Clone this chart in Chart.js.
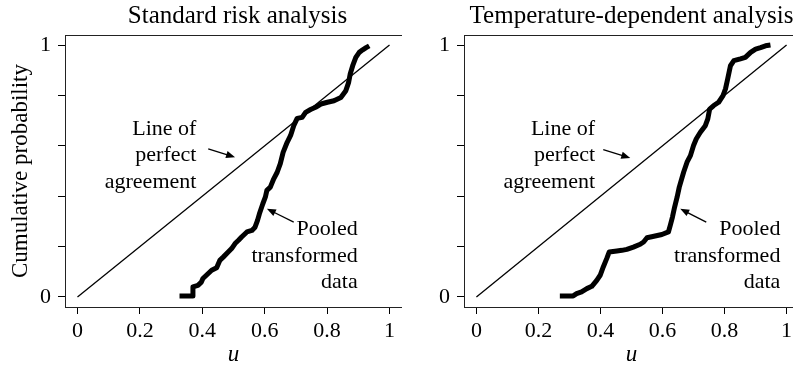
<!DOCTYPE html>
<html lang="en">
<head>
  <meta charset="UTF-8" />
  <title>Cumulative probability against u</title>
  <script src="https://cdn.jsdelivr.net/npm/chart.js@4"></script>
  <style>
    body {
      margin: 0;
      background: #fff;
      width: 793px;
      height: 371px;
      overflow: hidden;
      position: relative;
    }
    canvas { position: absolute; top: 0; }
    #stdChart { left: 0; }
    #tempChart { left: 399px; }
  </style>
</head>
<body>
  <canvas id="stdChart" width="402" height="371"></canvas>
  <canvas id="tempChart" width="400" height="371"></canvas>

  <script>
    const uTicks = [0, 0.2, 0.4, 0.6, 0.8, 1];
    const pTicks = [0, 0.2, 0.4, 0.6, 0.8, 1];
    const pLabelled = [0, 1];

    const agreementU = [0, 1];
    const agreementP = [0, 1];

    // standard risk analysis, pooled transformed data
    const stdU = [0.327, 0.370, 0.370, 0.386, 0.397, 0.402, 0.419, 0.430, 0.446, 0.456,
                  0.467, 0.483, 0.494, 0.505, 0.516, 0.526, 0.543, 0.559, 0.569, 0.577,
                  0.583, 0.594, 0.602, 0.607, 0.618, 0.629, 0.640, 0.650, 0.659, 0.672,
                  0.683, 0.693, 0.704, 0.720, 0.731, 0.747, 0.763, 0.780, 0.801, 0.822,
                  0.844, 0.860, 0.869, 0.874, 0.882, 0.892, 0.903, 0.914, 0.925, 0.935];
    const stdP = [0.004, 0.004, 0.040, 0.046, 0.059, 0.073, 0.093, 0.106, 0.116, 0.145,
                  0.158, 0.178, 0.192, 0.212, 0.225, 0.238, 0.258, 0.264, 0.277, 0.304,
                  0.330, 0.370, 0.396, 0.423, 0.436, 0.469, 0.495, 0.529, 0.574, 0.614,
                  0.641, 0.680, 0.709, 0.713, 0.733, 0.744, 0.753, 0.766, 0.773, 0.779,
                  0.792, 0.819, 0.852, 0.885, 0.918, 0.951, 0.971, 0.981, 0.990, 0.997];

    // temperature-dependent analysis
    const tempU = [0.269, 0.312, 0.323, 0.339, 0.356, 0.372, 0.388, 0.399, 0.409, 0.420,
                   0.428, 0.453, 0.469, 0.485, 0.506, 0.528, 0.539, 0.550, 0.576, 0.598,
                   0.619, 0.625, 0.632, 0.639, 0.647, 0.654, 0.668, 0.679, 0.690, 0.700,
                   0.709, 0.722, 0.738, 0.746, 0.752, 0.765, 0.781, 0.795, 0.803, 0.810,
                   0.819, 0.830, 0.851, 0.867, 0.884, 0.900, 0.916, 0.932, 0.948];
    const tempP = [0.004, 0.004, 0.013, 0.020, 0.033, 0.042, 0.066, 0.086, 0.119, 0.152,
                   0.178, 0.182, 0.185, 0.189, 0.198, 0.209, 0.218, 0.235, 0.242, 0.248,
                   0.258, 0.284, 0.317, 0.357, 0.396, 0.436, 0.495, 0.535, 0.561, 0.601,
                   0.628, 0.654, 0.680, 0.707, 0.746, 0.760, 0.773, 0.799, 0.826, 0.865,
                   0.918, 0.938, 0.945, 0.951, 0.971, 0.984, 0.990, 0.997, 1.000];

    const agreementNote = ['Line of', 'perfect', 'agreement'];
    const pooledNote = ['Pooled', 'transformed', 'data'];

    const serif = "'Liberation Serif', 'Times New Roman', serif";
    Chart.defaults.font.family = serif;
    Chart.defaults.color = '#000';

    const toPoints = (xs, ys) => xs.map((x, i) => ({ x, y: ys[i] }));
    const px = v => Math.round(v - 0.5) + 0.5;

    // closed frame round the plot region plus the panel title
    const boxPlugin = {
      id: 'box',
      afterDraw(chart, args, opts) {
        const { ctx, chartArea: a } = chart;
        ctx.save();
        ctx.strokeStyle = '#222';
        ctx.lineWidth = 1;
        ctx.strokeRect(px(a.left), px(a.top), px(a.right) - px(a.left), px(a.bottom) - px(a.top));
        ctx.font = '25px ' + serif;
        ctx.fillStyle = '#000';
        ctx.textAlign = 'center';
        ctx.textBaseline = 'alphabetic';
        ctx.fillText(opts.title, (a.left + a.right) / 2 + (opts.shift || 0), 23);
        ctx.restore();
      }
    };

    function arrow(ctx, x1, y1, x2, y2) {
      const ang = Math.atan2(y2 - y1, x2 - x1);
      const len = 9, half = 3.6;
      ctx.beginPath();
      ctx.moveTo(x1, y1);
      ctx.lineTo(x2 - Math.cos(ang) * len * 0.8, y2 - Math.sin(ang) * len * 0.8);
      ctx.stroke();
      ctx.beginPath();
      ctx.moveTo(x2, y2);
      ctx.lineTo(x2 - Math.cos(ang) * len + Math.sin(ang) * half, y2 - Math.sin(ang) * len - Math.cos(ang) * half);
      ctx.lineTo(x2 - Math.cos(ang) * len - Math.sin(ang) * half, y2 - Math.sin(ang) * len + Math.cos(ang) * half);
      ctx.closePath();
      ctx.fill();
    }

    // text labels with pointer arrows, placed in data units
    const notesPlugin = {
      id: 'notes',
      afterDatasetsDraw(chart, args, opts) {
        const { ctx, scales: { x, y } } = chart;
        ctx.save();
        ctx.font = '22px ' + serif;
        ctx.fillStyle = '#000';
        ctx.strokeStyle = '#000';
        ctx.lineWidth = 1.3;
        ctx.textAlign = 'right';
        ctx.textBaseline = 'alphabetic';
        opts.items.forEach(n => {
          const tx = x.getPixelForValue(n.at[0]);
          const ty = y.getPixelForValue(n.at[1]);
          n.text.forEach((line, i) => ctx.fillText(line, tx, ty + i * 26.3));
          arrow(ctx,
            x.getPixelForValue(n.from[0]), y.getPixelForValue(n.from[1]),
            x.getPixelForValue(n.to[0]), y.getPixelForValue(n.to[1]));
        });
        ctx.restore();
      }
    };

    function makeChart(id, title, us, ps, yTitle, notes, shift) {
      return new Chart(document.getElementById(id), {
        type: 'line',
        data: {
          datasets: [
            { data: toPoints(agreementU, agreementP), borderColor: '#000', borderWidth: 1.3 },
            { data: toPoints(us, ps), borderColor: '#000', borderWidth: 5,
              borderJoinStyle: 'round', borderCapStyle: 'butt' }
          ]
        },
        options: {
          responsive: false,
          animation: false,
          layout: { padding: { top: 35, right: 0, left: 0, bottom: 0 } },
          elements: { point: { radius: 0 }, line: { tension: 0 } },
          plugins: {
            legend: { display: false },
            tooltip: { enabled: false },
            box: { title, shift },
            notes: { items: notes }
          },
          scales: {
            x: {
              type: 'linear',
              min: -0.04,
              max: 1.04,
              afterBuildTicks: s => { s.ticks = uTicks.map(v => ({ value: v })); },
              afterFit: s => { s.height = 64; },
              ticks: { padding: 4, autoSkip: false, maxRotation: 0, font: { size: 22 }, callback: v => String(v) },
              grid: { drawOnChartArea: false, drawTicks: true, tickLength: 7, color: '#000' },
              border: { display: true, color: '#222' },
              title: { display: true, text: 'u', font: { size: 23, style: 'italic' }, padding: { top: 0, bottom: 2 } }
            },
            y: {
              type: 'linear',
              min: -0.04,
              max: 1.04,
              afterBuildTicks: s => { s.ticks = pTicks.map(v => ({ value: v })); },
              afterFit: s => { s.width = 65; },
              ticks: { padding: 7, autoSkip: false, font: { size: 22 },
                       callback: v => pLabelled.includes(v) ? String(v) : '' },
              grid: { drawOnChartArea: false, drawTicks: true, tickLength: 7, color: '#000' },
              border: { display: true, color: '#222' },
              title: { display: !!yTitle, text: yTitle || '', font: { size: 23 }, padding: { top: 7, bottom: 0 } }
            }
          }
        },
        plugins: [boxPlugin, notesPlugin]
      });
    }

    makeChart('stdChart', 'Standard risk analysis', stdU, stdP, 'Cumulative probability', [
      { text: agreementNote, at: [0.381, 0.643], from: [0.419, 0.588], to: [0.505, 0.555] },
      { text: pooledNote, at: [0.898, 0.244], from: [0.693, 0.297], to: [0.607, 0.350] }
    ], 4);

    makeChart('tempChart', 'Temperature-dependent analysis', tempU, tempP, null, [
      { text: agreementNote, at: [0.3825, 0.643], from: [0.409, 0.585], to: [0.496, 0.552] },
      { text: pooledNote, at: [0.98, 0.244], from: [0.741, 0.297], to: [0.657, 0.350] }
    ], 0);
  </script>
</body>
</html>
